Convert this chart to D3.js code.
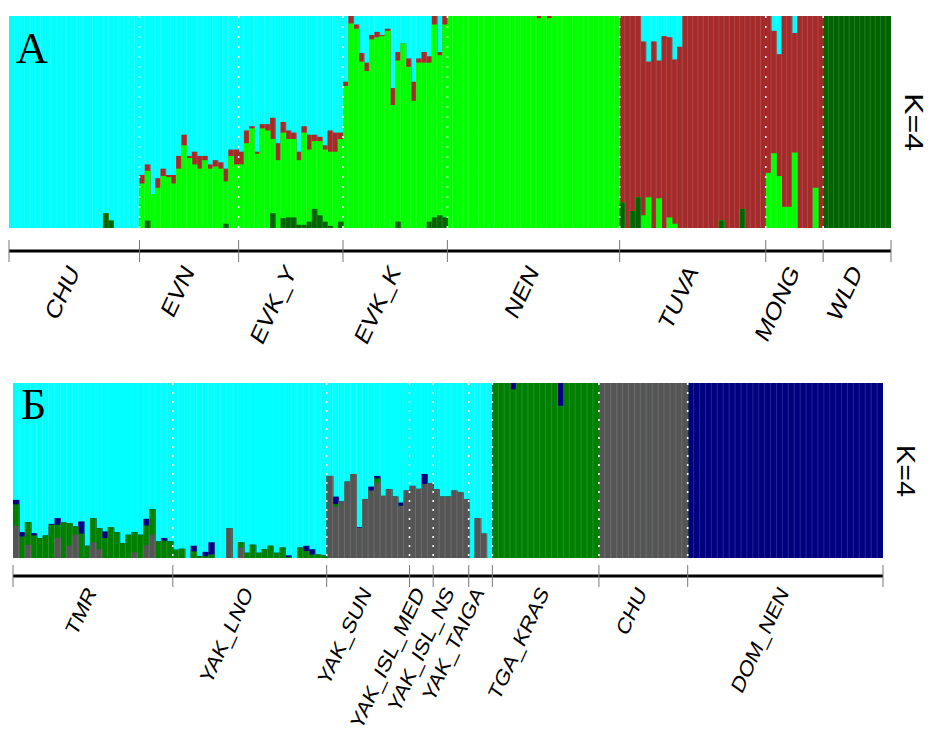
<!DOCTYPE html>
<html>
<head>
<meta charset="utf-8">
<script src="https://cdn.jsdelivr.net/npm/d3@7"></script>
<style>
  body { margin: 0; background: #fff; }
  svg { display: block; }
  .poplabel { font-family: "Liberation Sans", Arial, sans-serif; }
  .klabel { font-family: "Liberation Sans", Arial, sans-serif; }
  .panel { font-family: "Liberation Serif", "Times New Roman", serif; }
</style>
</head>
<body>
<svg id="chart" width="930" height="733"></svg>
<script>
// Panel A: ancestry proportions [darkgreen, green, brown]; cyan is the remainder
const colorsA = ['#006400', '#00ff00', '#a52a2a', '#00ffff'];
const namesA = ['CHU', 'EVN', 'EVK_Y', 'EVK_K', 'NEN', 'TUVA', 'MONG', 'WLD'];

const qA_CHU = [
  [0,0,0],[0,0,0],[0,0,0],[0,0,0],[0,0,0],[0,0,0],[0,0,0],[0,0,0],[0,0,0],[0,0,0],
  [0,0,0],[0,0,0],[0,0,0],[0,0,0],[0,0,0],[0,0,0],[0,0,0],[0,0,0],[.07,0,0],[.035,0,0],
  [0,0,0],[0,0,0],[0,0,0],[0,0,0],[0,0,0]
];
const qA_EVN = [
  [0,.21,.04],[.035,.235,.03],[0,.16,0],[0,.19,.045],[0,.245,.035],[0,.24,.01],[0,.21,.04],
  [0,.28,.06],[0,.39,.05],[0,.33,.01],[0,.30,.06],[0,.28,.06],[0,.32,.02],[0,.28,.02],
  [0,.29,.03],[0,.28,.03],[.02,.20,.06],[0,.34,.03],[0,.30,.07]
];
const qA_EVK_Y = [
  [0,.30,.06],[0,.40,.06],[0,.47,.01],[0,.35,.01],[0,.47,.02],[0,.46,.03],[.07,.35,.10],
  [0,.32,.08],[.047,.403,.05],[.05,.37,.04],[.05,.37,.03],[.015,.305,.04],[.015,.435,.03],
  [.03,.34,.07],[.09,.32,.03],[.06,.35,.02],[.03,.34,.02],[.01,.35,.10],[0,.36,.09],[.03,.39,.03]
];
const qA_EVK_K = [
  [0,.67,.02],[0,.965,.035],[0,.94,.02],[0,.785,.04],[0,.74,.04],[0,.89,.02],[0,.90,.025],
  [0,.905,.005],[0,.93,.01],[0,.58,.08],[.03,.76,.04],[0,.87,0],[0,.76,.04],[0,.60,.09],
  [0,.78,.02],[0,.78,.05],[.03,.75,.03],[.05,.91,.04],[.06,.755,.015],[.05,.91,.04]
];
const qA_NEN = [
  [0,1,0],[0,1,0],[0,1,0],[0,1,0],[0,1,0],[0,1,0],[0,1,0],[0,1,0],[0,1,0],[0,1,0],
  [0,1,0],[0,1,0],[0,1,0],[0,1,0],[0,1,0],[0,1,0],[0,1,0],[0,.99,.01],[0,1,0],[0,.99,.01],
  [0,1,0],[0,1,0],[0,1,0],[0,1,0],[0,1,0],[0,1,0],[0,1,0],[0,1,0],[0,1,0],[0,1,0],
  [0,1,0],[0,1,0],[0,1,0]
];
const qA_TUVA = [
  [.12,0,.88],[0,0,1],[.08,0,.92],[.145,0,.855],[0,.06,.82],[0,.145,.64],[0,0,.88],
  [0,.14,.65],[0,0,.905],[0,.05,.85],[0,.02,.775],[0,0,.855],[0,0,1],[0,0,1],
  [0,0,1],[0,0,1],[0,0,1],[0,0,1],[0,0,1],[.036,0,.964],[0,0,1],[0,0,1],
  [0,0,1],[.09,0,.91],[0,0,1],[0,0,1],[0,0,1],[0,0,1]
];
const qA_MONG = [
  [0,.26,.74],[0,.353,.577],[0,.245,.575],[0,.10,.90],[0,.10,.90],[0,.356,.564],
  [0,0,1],[0,0,1],[0,0,1],[0,.19,.81],[0,0,1]
];
const qA_WLD = [
  [1,0,0],[1,0,0],[1,0,0],[1,0,0],[1,0,0],[1,0,0],[1,0,0],[1,0,0],[1,0,0],[1,0,0],
  [1,0,0],[1,0,0],[1,0,0]
];

// Panel B: ancestry proportions [gray, green, navy]; cyan is the remainder
const colorsB = ['#555555', '#008000', '#000080', '#00ffff'];
const namesB = ['TMR', 'YAK_LNO', 'YAK_SUN', 'YAK_ISL_MED', 'YAK_ISL_NS', 'YAK_TAIGA', 'TGA_KRAS', 'CHU', 'DOM_NEN'];

const qB_TMR = [
  [.184,.123,.025],[0,.123,.025],[.076,.129,0],[0,.129,.013],[0,.114,0],[0,.129,0],[0,.19,.005],
  [.114,.076,.038],[0,.203,0],[.07,.13,0],[.133,.047,0],[0,.139,.07],[0,.07,0],[.089,.139,0],
  [.051,.12,0],[0,.114,.038],[0,.176,0],[0,.148,0],[0,.085,0],[0,.133,0],[.032,.116,0],
  [0,.133,0],[.072,.114,.038],[.133,.146,0],[0,.095,0],[0,.099,.015],[0,.095,0]
];
const qB_YAK_LNO = [
  [0,.047,0],[0,.053,0],[0,0,0],[0,.038,.032],[0,.01,0],[0,.01,.025],[0,.02,.07],[0,0,0],
  [0,0,0],[.17,0,0],[0,0,0],[.06,.03,0],[0,.03,0],[0,.076,0],[0,.03,0],[0,.05,0],[0,.07,0],
  [0,.03,0],[0,.06,0],[0,.005,.01],[0,0,0],[0,.06,0],[0,.04,.03],[0,.02,.03],[0,.02,0],[0,.015,0]
];
const qB_YAK_SUN = [
  [.469,0,0],[.294,.015,.042],[.323,0,0],[.436,0,0],[.48,0,0],[.171,0,.005],[.336,0,0],
  [.385,0,.023],[.431,.024,.014],[.355,0,0],[.393,0,0],[.351,0,0],[.298,0,.019],[.385,0,0]
];
const qB_YAK_ISL_MED = [[.412,0,0],[.395,0,0],[.423,0,.057],[.427,0,0]];
const qB_YAK_ISL_NS = [[.393,0,0],[.351,0,0],[.351,0,0],[.385,0,0],[.375,0,0],[.337,0,0]];
const qB_YAK_TAIGA = [[0,0,0],[.228,0,0],[.139,0,0],[0,0,0]];
const qB_TGA_KRAS = [
  [0,1,0],[0,1,0],[0,1,0],[0,.964,.036],[0,1,0],[0,1,0],[0,1,0],[0,1,0],[0,1,0],
  [0,1,0],[0,1,0],[0,.87,.13],[0,1,0],[0,1,0],[0,1,0],[0,1,0],[0,1,0],[0,1,0]
];
const qB_CHU = [
  [1,0,0],[1,0,0],[1,0,0],[1,0,0],[1,0,0],[1,0,0],[1,0,0],[1,0,0],[1,0,0],[1,0,0],
  [1,0,0],[1,0,0],[1,0,0],[1,0,0],[1,0,0]
];
const qB_DOM_NEN = [
  [0,0,1],[0,0,1],[0,0,1],[0,0,1],[0,0,1],[0,0,1],[0,0,1],[0,0,1],[0,0,1],[0,0,1],
  [0,0,1],[0,0,1],[0,0,1],[0,0,1],[0,0,1],[0,0,1],[0,0,1],[0,0,1],[0,0,1],[0,0,1],
  [0,0,1],[0,0,1],[0,0,1],[0,0,1],[0,0,1],[0,0,1],[0,0,1],[0,0,1],[0,0,1],[0,0,1],
  [0,0,1],[0,0,1],[0,0,1]
];

const popsA = [qA_CHU, qA_EVN, qA_EVK_Y, qA_EVK_K, qA_NEN, qA_TUVA, qA_MONG, qA_WLD];
const popsB = [qB_TMR, qB_YAK_LNO, qB_YAK_SUN, qB_YAK_ISL_MED, qB_YAK_ISL_NS, qB_YAK_TAIGA, qB_TGA_KRAS, qB_CHU, qB_DOM_NEN];

const svg = d3.select('#chart');

function drawPanel(opt) {
  const g = svg.append('g');
  const inds = [];
  const bounds = [0];
  opt.pops.forEach(p => {
    p.forEach(q => {
      const rest = Math.max(0, 1 - d3.sum(q));
      inds.push(q.concat([rest]));
    });
    bounds.push(inds.length);
  });

  const x = d3.scaleLinear().domain([0, inds.length]).range([opt.x0, opt.x1]);
  const y = d3.scaleLinear().domain([0, 1]).range([opt.y1, opt.y0]);
  const bw = x(1) - x(0);

  const series = d3.stack().keys([0, 1, 2, 3]).value((d, k) => d[k])(inds);

  // paint from the top cluster down so each layer runs from the baseline
  g.selectAll('g.layer')
    .data(series.slice().reverse())
    .join('g')
    .attr('class', 'layer')
    .attr('fill', d => opt.colors[d.key])
    .selectAll('rect')
    .data(d => d)
    .join('rect')
    .attr('x', (d, i) => x(i))
    .attr('width', (d, i) => i === inds.length - 1 ? bw : bw + 0.6)
    .attr('y', d => y(Math.min(1, d[1])))
    .attr('height', d => y(0) - y(Math.min(1, d[1])));

  // faint individual separators
  g.selectAll('line.ind')
    .data(d3.range(1, inds.length).filter(i => !bounds.includes(i)))
    .join('line')
    .attr('x1', d => x(d)).attr('x2', d => x(d))
    .attr('y1', opt.y0).attr('y2', opt.y1)
    .attr('stroke', '#fff')
    .attr('stroke-opacity', 0.18)
    .attr('stroke-width', 0.8);

  // dotted population separators
  g.selectAll('line.sep')
    .data(bounds.slice(1, -1))
    .join('line')
    .attr('x1', d => x(d)).attr('x2', d => x(d))
    .attr('y1', opt.y0).attr('y2', opt.y1)
    .attr('stroke', '#fff')
    .attr('stroke-width', 1.6)
    .attr('stroke-dasharray', opt.dash);

  // axis line and ticks
  g.append('line')
    .attr('x1', opt.x0).attr('x2', opt.x1)
    .attr('y1', opt.axisY).attr('y2', opt.axisY)
    .attr('stroke', '#000').attr('stroke-width', 3);
  g.selectAll('line.tick')
    .data(bounds)
    .join('line')
    .attr('x1', d => x(d)).attr('x2', d => x(d))
    .attr('y1', opt.axisY - 11).attr('y2', opt.axisY + 11)
    .attr('stroke', '#777').attr('stroke-width', 1);

  // population names (rotated, then stretched vertically like the source figure)
  g.selectAll('text.poplabel')
    .data(opt.names)
    .join('text')
    .attr('class', 'poplabel')
    .attr('text-anchor', 'end')
    .attr('font-size', opt.fontSize)
    .attr('transform', (d, i) => {
      const cx = x((bounds[i] + bounds[i + 1]) / 2) + opt.labelDx;
      return `translate(${cx},${opt.labelY}) scale(1,1.24) rotate(-60)`;
    })
    .text(d => d);

  svg.append('text')
    .attr('class', 'panel')
    .attr('x', opt.letterX).attr('y', opt.letterY)
    .attr('font-size', 44)
    .text(opt.letter);

  svg.append('text')
    .attr('class', 'klabel')
    .attr('text-anchor', 'middle')
    .attr('font-size', opt.kSize)
    .attr('transform', `translate(${opt.kX},${opt.kY}) scale(1,${opt.kStretch}) rotate(90)`)
    .text('K=4');
}

drawPanel({
  pops: popsA, names: namesA, colors: colorsA,
  x0: 9, x1: 891, y0: 16, y1: 228,
  axisY: 251, labelY: 272, labelDx: 6, fontSize: 21.5, dash: '2,8',
  letter: 'А', letterX: 16, letterY: 63,
  kX: 905, kY: 122, kSize: 26, kStretch: 1.24
});

drawPanel({
  pops: popsB, names: namesB, colors: colorsB,
  x0: 13, x1: 883, y0: 383, y1: 558,
  axisY: 576, labelY: 593, labelDx: 4, fontSize: 19, dash: '2,7',
  letter: 'Б', letterX: 21, letterY: 419,
  kX: 897, kY: 471, kSize: 25, kStretch: 1.15
});
</script>
</body>
</html>
